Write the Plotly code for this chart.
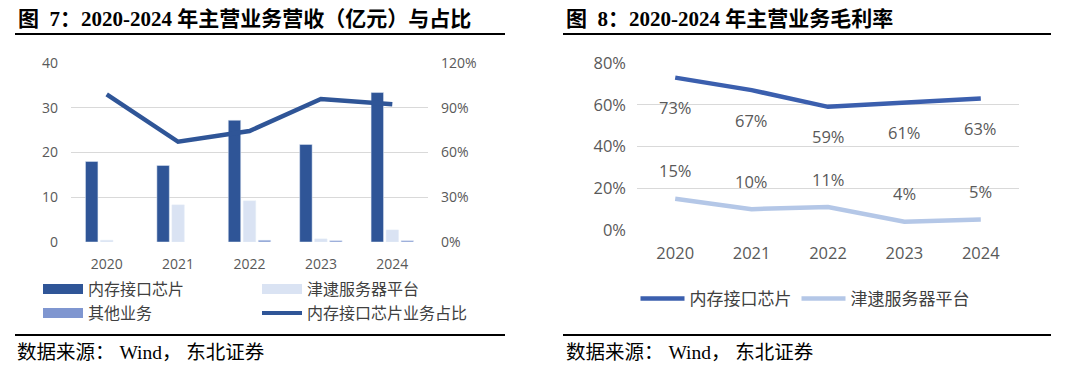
import plotly.graph_objects as go

years = ["2020", "2021", "2022", "2023", "2024"]
year_nums = [2020, 2021, 2022, 2023, 2024]
# left panel: revenue (亿元)
mem_chip = [18.0, 17.1, 27.2, 21.8, 33.4]
jindai = [0.4, 8.3, 9.2, 0.7, 2.7]
other = [None, None, 0.4, 0.3, 0.3]
mem_share = [0.99, 0.672, 0.744, 0.959, 0.923]
# right panel: gross margin
gm_mem = [0.73, 0.67, 0.59, 0.61, 0.63]
gm_jd = [0.15, 0.10, 0.11, 0.04, 0.05]
gm_mem_labels = ["73%", "67%", "59%", "61%", "63%"]
gm_jd_labels = ["15%", "10%", "11%", "4%", "5%"]

# the page body has an 8px margin, so the figure is drawn 8px in from the window corner
OFF = 8
W, H = 1080 - OFF, 368 - OFF
DARK = "#2f5597"
LIGHT = "#dae3f3"
MID = "#7f96d0"
LINE_DARK = "#3b5fae"
LINE_LIGHT = "#b4c7e7"
GRID = "#d9d9d9"
TXT = "#595959"
TICKFONT_L = dict(family="Open Sans, Noto Sans CJK SC", size=14, color=TXT)
TICKFONT_R = dict(family="Open Sans, Noto Sans CJK SC", size=16.5, color=TXT)
CJK = "Noto Sans CJK SC"

def px_x(x):
    return (x - OFF) / W

def px_y(y):
    return 1 - (y - OFF) / H

fig = go.Figure()

# ---- left panel bars
fig.add_trace(go.Bar(x=years, y=mem_chip, marker_color=DARK, xaxis="x", yaxis="y",
                     showlegend=False, name="内存接口芯片"))
fig.add_trace(go.Bar(x=years, y=jindai, marker_color=LIGHT, xaxis="x", yaxis="y",
                     showlegend=False, name="津逮服务器平台"))
fig.add_trace(go.Bar(x=years, y=other, marker_color=MID, xaxis="x", yaxis="y",
                     showlegend=False, name="其他业务"))
fig.add_trace(go.Scatter(x=years, y=mem_share, mode="lines", line=dict(color=DARK, width=4.5),
                         xaxis="x", yaxis="y2", showlegend=False, name="内存接口芯片业务占比"))

# left legend entries (wide swatches)
def leg(name, color, width, legend):
    fig.add_trace(go.Scatter(x=[None], y=[None], mode="lines", name=name,
                             line=dict(color=color, width=width), legend=legend,
                             xaxis="x", yaxis="y"))

leg("内存接口芯片", DARK, 10, "legend")
leg("津逮服务器平台", LIGHT, 10, "legend")
leg("其他业务", MID, 10, "legend2")
leg("内存接口芯片业务占比", DARK, 4, "legend2")

# ---- right panel lines
fig.add_trace(go.Scatter(x=year_nums, y=gm_mem, mode="lines", line=dict(color=LINE_DARK, width=4.5),
                         xaxis="x2", yaxis="y3", name="内存接口芯片", legend="legend3"))
fig.add_trace(go.Scatter(x=year_nums, y=gm_jd, mode="lines", line=dict(color=LINE_LIGHT, width=4.5),
                         xaxis="x2", yaxis="y3", name="津逮服务器平台", legend="legend3"))

LABELFONT = dict(family="Open Sans", size=16.5, color=TXT)
annotations = []
for yr, v, t in zip(year_nums, gm_mem, gm_mem_labels):
    annotations.append(dict(x=yr, y=v, xref="x2", yref="y3", text=t, showarrow=False,
                            yshift=-30, font=LABELFONT))
for yr, v, t in zip(year_nums, gm_jd, gm_jd_labels):
    annotations.append(dict(x=yr, y=v, xref="x2", yref="y3", text=t, showarrow=False,
                            yshift=28, font=LABELFONT))

TITLE_FONT = dict(family="Liberation Serif, Noto Sans CJK SC", size=21, color="#000000")
SRC_FONT = dict(family="Liberation Serif, Noto Sans CJK SC", size=19.5, color="#000000")
annotations += [
    dict(text="<b>图  7：2020-2024 年主营业务营收（亿元）与占比</b>", x=px_x(16), y=px_y(19),
         xref="paper", yref="paper", xanchor="left", yanchor="middle", showarrow=False, font=TITLE_FONT),
    dict(text="<b>图  8：2020-2024 年主营业务毛利率</b>", x=px_x(564), y=px_y(19),
         xref="paper", yref="paper", xanchor="left", yanchor="middle", showarrow=False, font=TITLE_FONT),
    dict(text="数据来源： Wind， 东北证券", x=px_x(15), y=px_y(352),
         xref="paper", yref="paper", xanchor="left", yanchor="middle", showarrow=False, font=SRC_FONT),
    dict(text="数据来源： Wind， 东北证券", x=px_x(564), y=px_y(352),
         xref="paper", yref="paper", xanchor="left", yanchor="middle", showarrow=False, font=SRC_FONT),
]

shapes = []
for x0, x1 in [(15, 505), (563, 1051)]:
    for yy in (34, 335):
        shapes.append(dict(type="line", xref="paper", yref="paper", x0=px_x(x0), x1=px_x(x1),
                           y0=px_y(yy), y1=px_y(yy), line=dict(color="#000000", width=2)))

common = dict(showline=False, zeroline=False, ticks="")

fig.update_layout(
    width=W, height=H,
    margin=dict(l=0, r=0, t=0, b=0, pad=0, autoexpand=False),
    paper_bgcolor="white", plot_bgcolor="white",
    barmode="group", bargap=0.37, bargroupgap=0.17,
    xaxis=dict(domain=[px_x(71), px_x(428)], type="category", showgrid=False,
               ticklabelstandoff=12, tickfont=TICKFONT_L, **common),
    yaxis=dict(domain=[px_y(242), px_y(63)], range=[0, 40], dtick=10, showgrid=True,
               gridcolor=GRID, gridwidth=1.3, ticklabelstandoff=12, tickfont=TICKFONT_L, **common),
    yaxis2=dict(overlaying="y", side="right", range=[0, 1.2], dtick=0.3, tickformat=".0%",
                showgrid=False, anchor="x", ticklabelstandoff=12, tickfont=TICKFONT_L, **common),
    xaxis2=dict(domain=[px_x(637), px_x(1019)], range=[2019.5, 2024.5], dtick=1,
                tickformat="d", showgrid=False, anchor="y3",
                ticklabelstandoff=11, tickfont=TICKFONT_R, **common),
    yaxis3=dict(domain=[px_y(230), px_y(63)], range=[0, 0.8], dtick=0.2, tickformat=".0%",
                anchor="x2", showgrid=True, gridcolor=GRID, gridwidth=1.3,
                ticklabelstandoff=10, tickfont=TICKFONT_R, **common),
    legend=dict(orientation="h", x=px_x(38), y=px_y(289), xanchor="left", yanchor="middle",
                itemwidth=40, entrywidth=164, entrywidthmode="pixels",
                font=dict(family=CJK, size=16, color="#404040"), bgcolor="rgba(0,0,0,0)",
                itemclick=False),
    legend2=dict(orientation="h", x=px_x(38), y=px_y(313), xanchor="left", yanchor="middle",
                 itemwidth=40, entrywidth=164, entrywidthmode="pixels",
                 font=dict(family=CJK, size=16, color="#404040"), bgcolor="rgba(0,0,0,0)"),
    legend3=dict(orientation="h", x=px_x(805), y=px_y(299), xanchor="center", yanchor="middle",
                 itemwidth=44,
                 font=dict(family=CJK, size=17, color="#404040"), bgcolor="rgba(0,0,0,0)"),
    annotations=annotations,
    shapes=shapes,
)

fig.write_html("out.html")
